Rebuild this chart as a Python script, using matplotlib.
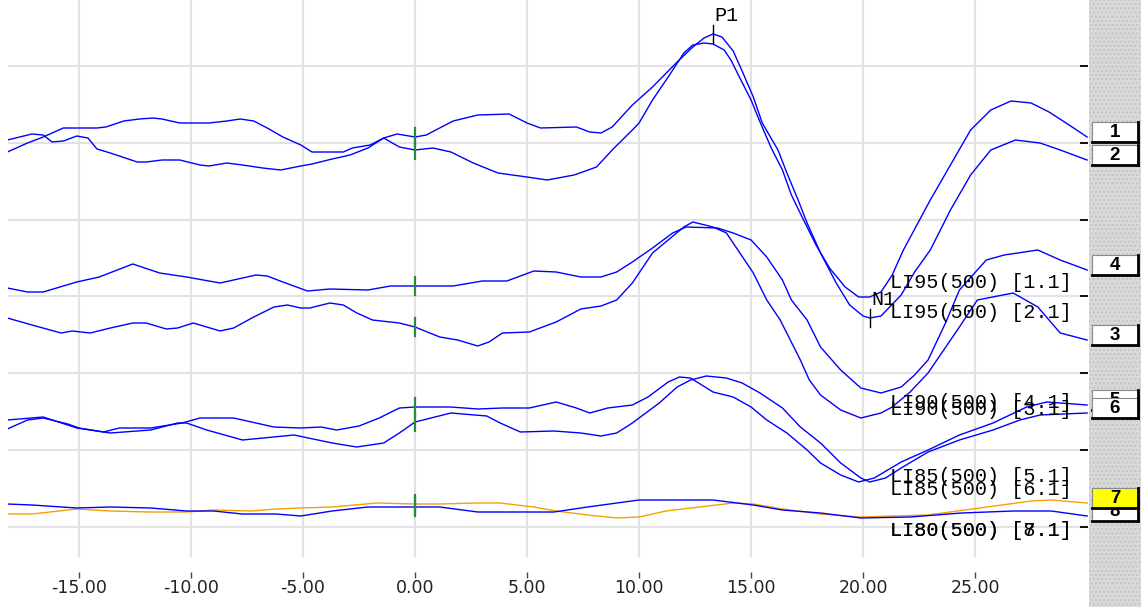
import numpy as np
import matplotlib
matplotlib.use('Agg')
import matplotlib.pyplot as plt
from matplotlib.patches import Rectangle
from matplotlib.lines import Line2D
from matplotlib.transforms import blended_transform_factory

# ---------------- data (time in ms, amplitude in uV) ----------------
ch1_t = [-18.2, -17.1, -16.6, -16.2, -15.7, -15.1, -14.6, -14.2, -13.6, -12.4, -12.0, -11.3, -10.5, -9.6, -9.2,
         -8.4, -7.7, -6.8, -6.0, -5.1, -4.6, -3.7, -2.9, -2.1, -1.4, -0.7, 0.0, 0.8, 1.6, 2.6, 3.7, 5.0, 5.9,
         7.1, 8.1, 8.8, 9.7, 10.0, 10.6, 11.3, 12.0, 12.4, 12.9, 13.3, 13.8, 14.1, 14.5, 15.0, 15.4, 15.9, 16.4, 16.8,
         17.3, 17.9, 18.5, 19.2, 19.8, 20.3, 20.8, 21.3, 21.8, 23.0, 23.9, 24.8, 25.7, 26.6, 27.5, 28.3, 29.2, 30.0]
ch1_v = [0.0, 0.6, 0.5, -0.2, -0.1, 0.4, 0.2, -0.9, -1.3, -2.2, -2.2, -2.0, -2.0, -2.5, -2.6,
         -2.3, -2.5, -2.8, -3.0, -2.6, -2.4, -1.9, -1.5, -0.8, 0.2, -0.7, -1.0, -0.8, -1.2, -2.3, -3.3, -3.7, -4.0,
         -3.5, -2.7, -1.0, 1.0, 1.7, 4.0, 6.3, 8.7, 9.5, 9.7, 9.6, 9.0, 8.0, 6.2, 4.0, 1.8, -0.8, -3.0, -5.5,
         -7.8, -10.5, -12.8, -14.7, -15.7, -15.7, -15.2, -13.5, -11.0, -6.0, -2.5, 1.0, 3.0, 3.9, 3.7, 2.8, 1.5, 0.3]

ch2_t = [-18.2, -17.3, -16.6, -15.7, -15.1, -14.2, -13.8, -13.0, -12.3, -11.7, -11.3, -10.5, -9.9, -9.2, -8.4,
         -7.8, -7.2, -6.6, -5.9, -5.1, -4.6, -3.2, -2.8, -2.0, -1.4, -0.8, 0.0, 0.5, 1.7, 2.8, 4.2, 5.0, 5.6,
         7.2, 7.8, 8.3, 8.8, 9.7, 10.6, 11.7, 12.4, 12.9, 13.3, 13.7, 14.2, 14.6, 15.1, 15.5, 16.2, 16.6, 17.1, 17.5,
         18.1, 18.8, 19.4, 20.0, 20.3, 20.8, 21.7, 22.3, 23.0, 23.9, 24.8, 25.7, 26.8, 27.9, 28.8, 30.0]
ch2_v = [-1.2, -0.3, 0.3, 1.2, 1.2, 1.2, 1.3, 1.9, 2.1, 2.2, 2.1, 1.7, 1.7, 1.7, 1.9,
         2.1, 1.9, 1.2, 0.3, -0.5, -1.2, -1.2, -0.8, -0.5, 0.2, 0.6, 0.3, 0.5, 1.9, 2.5, 2.6, 1.7, 1.2,
         1.3, 0.8, 0.7, 1.3, 3.5, 5.3, 7.8, 9.3, 10.2, 10.6, 10.3, 8.9, 6.9, 4.3, 1.7, -1.0, -3.3, -6.0, -8.3,
         -11.3, -14.3, -16.5, -17.6, -17.8, -17.6, -15.5, -13.2, -11.0, -7.0, -3.5, -1.0, 0.0, -0.3, -1.0, -2.0]

ch3_t = [-18.2, -17.1, -15.8, -15.3, -14.5, -13.6, -12.6, -12.0, -11.1, -10.6, -9.9, -9.3, -8.7, -8.1, -7.2,
         -6.3, -5.7, -5.1, -4.7, -3.8, -3.2, -2.6, -1.9, -0.7, 0.0, 1.1, 1.9, 2.8, 3.3, 3.9, 5.1, 6.3, 7.4,
         8.3, 9.0, 9.7, 10.6, 11.3, 12.0, 12.4, 13.3, 13.9, 14.5, 15.1, 15.7, 16.3, 17.2, 17.6, 18.1, 19.0, 19.9,
         20.8, 21.3, 22.1, 22.9, 24.3, 25.1, 26.7, 27.8, 28.8, 30.0]
ch3_v = [-1.8, -2.5, -3.3, -3.1, -3.3, -2.8, -2.3, -2.3, -2.9, -2.8, -2.3, -2.7, -3.1, -2.8, -1.7,
         -0.7, -0.5, -0.8, -0.8, -0.3, -0.5, -1.3, -2.0, -2.3, -2.7, -3.7, -4.0, -4.6, -4.2, -3.3, -3.2, -2.2, -0.9,
         -0.6, 0.0, 1.7, 4.7, 6.0, 7.3, 7.8, 7.3, 6.7, 4.7, 2.7, 0.0, -2.0, -6.0, -8.0, -9.5, -11.0, -11.8,
         -11.3, -10.7, -9.2, -7.3, -2.7, 0.0, 0.7, -0.7, -3.3, -4.0]

ch4_t = [-18.2, -17.3, -16.6, -15.1, -14.1, -12.6, -11.4, -10.2, -8.7, -7.1, -6.6, -5.9, -4.8, -3.8, -2.1,
         -1.1, 0.0, 1.7, 3.0, 4.1, 5.3, 6.3, 7.4, 8.3, 9.0, 9.7, 10.6, 11.5, 12.1, 13.5, 14.2, 15.0, 15.7,
         16.4, 16.8, 17.5, 18.1, 19.0, 19.9, 20.8, 21.7, 22.3, 22.9, 23.7, 24.3, 25.5, 26.3, 27.8, 28.8, 30.0]
ch4_v = [1.2, 0.8, 0.8, 1.8, 2.3, 3.6, 2.7, 2.3, 1.7, 2.5, 2.4, 1.8, 0.9, 1.1, 1.0,
         1.4, 1.4, 1.4, 1.9, 1.9, 2.9, 2.8, 2.3, 2.3, 2.8, 3.8, 5.2, 6.7, 7.3, 7.2, 6.7, 6.0, 4.3,
         2.0, 0.0, -2.0, -4.7, -7.0, -8.8, -9.3, -8.7, -7.5, -6.0, -2.2, 1.0, 4.0, 4.5, 5.0, 4.0, 3.0]

ch5_t = [-18.2, -17.3, -16.6, -15.5, -15.0, -13.9, -13.2, -11.8, -10.4, -9.6, -8.1, -6.3, -5.1, -4.2, -3.5,
         -2.5, -1.6, -0.7, 0.0, 1.6, 2.8, 3.9, 5.1, 6.3, 7.2, 7.8, 8.6, 9.7, 10.4, 11.3, 11.8, 12.3, 13.3,
         14.2, 15.0, 15.7, 16.6, 17.5, 18.1, 19.0, 19.8, 20.5, 21.7, 22.9, 24.3, 25.8, 27.3, 28.2, 30.0]
ch5_v = [-0.9, 0.0, 0.2, -0.4, -0.8, -1.2, -0.8, -0.8, -0.3, 0.2, 0.2, -0.7, -0.8, -0.7, -1.0,
         -0.6, 0.2, 1.2, 1.3, 1.3, 1.1, 1.2, 1.2, 1.8, 1.2, 0.7, 1.2, 1.5, 2.3, 3.8, 4.3, 4.2, 2.8,
         2.3, 1.3, 0.0, -1.3, -3.0, -4.3, -5.5, -6.2, -5.8, -4.2, -3.0, -1.5, -0.3, 1.3, 1.8, 1.5]

ch6_t = [-18.2, -16.6, -15.1, -13.6, -11.8, -10.6, -10.2, -9.3, -7.7, -5.4, -3.7, -2.6, -1.4, -0.7, 0.0,
         1.6, 3.2, 3.8, 4.7, 6.2, 7.4, 8.3, 9.0, 9.7, 10.9, 11.7, 12.3, 13.0, 13.9, 14.6, 15.4, 16.4, 17.2,
         18.1, 19.0, 19.9, 20.3, 21.0, 21.7, 22.9, 24.3, 25.8, 27.0, 27.9, 30.0]
ch6_v = [0.0, 0.3, -0.8, -1.3, -1.0, -0.3, -0.3, -1.0, -2.0, -1.5, -2.3, -2.7, -2.3, -1.3, -0.2,
         0.7, 0.4, -0.3, -1.2, -1.1, -1.3, -1.6, -1.3, -0.3, 1.7, 3.3, 4.0, 4.4, 4.2, 3.7, 2.7, 1.2, -0.7,
         -2.3, -4.3, -5.8, -6.2, -5.8, -4.8, -3.2, -2.0, -1.0, 0.0, 0.5, 0.7]

ch7_t = [-18.2, -17.1, -15.1, -13.6, -11.8, -10.2, -9.0, -7.3, -6.2, -5.1, -3.7, -1.7, 0.0, 1.1, 2.8,
         3.8, 5.3, 6.3, 7.7, 9.0, 10.0, 11.2, 12.7, 14.2, 15.1, 16.4, 18.1, 19.9, 22.9, 25.2, 27.5, 28.4, 30.0]
ch7_v = [-0.4, -0.4, 0.1, -0.1, -0.2, -0.2, 0.0, -0.1, 0.1, 0.2, 0.3, 0.7, 0.6, 0.6, 0.7,
         0.7, 0.3, -0.1, -0.5, -0.8, -0.7, -0.1, 0.3, 0.7, 0.6, 0.1, -0.4, -0.7, -0.5, 0.2, 0.9, 1.0, 0.7]

ch8_t = [-18.2, -17.1, -15.1, -13.6, -11.8, -10.2, -9.0, -7.7, -6.2, -5.1, -3.7, -2.1, 0.0, 1.1, 2.8,
         6.2, 7.7, 10.0, 13.3, 15.1, 16.4, 18.1, 19.9, 22.1, 24.4, 26.7, 28.4, 30.0]
ch8_v = [0.6, 0.5, 0.2, 0.3, 0.2, -0.1, -0.1, -0.4, -0.4, -0.6, -0.1, 0.3, 0.3, 0.3, -0.2,
         -0.2, 0.3, 1.0, 1.0, 0.5, 0.0, -0.3, -0.8, -0.7, -0.3, -0.1, -0.1, -0.6]

channel_ids = ['1', '2', '3', '4', '5', '6', '7', '8']
trace_labels = ['LI95(500) [1.1]', 'LI95(500) [2.1]', 'LI90(500) [3.1]', 'LI90(500) [4.1]',
                'LI85(500) [5.1]', 'LI85(500) [6.1]', 'LI80(500) [7.1]', 'LI80(500) [8.1]']
x_ticks = [-15, -10, -5, 0, 5, 10, 15, 20, 25]
x_tick_labels = ['-15.00', '-10.00', '-5.00', '0.00', '5.00', '10.00', '15.00', '20.00', '25.00']
peak_names = ['P1', 'N1']
peak_times = [13.3, 20.3]   # marked on channel 2

# ---------------- layout / style ----------------
times = [ch1_t, ch2_t, ch3_t, ch4_t, ch5_t, ch6_t, ch7_t, ch8_t]
values = [ch1_v, ch2_v, ch3_v, ch4_v, ch5_v, ch6_v, ch7_v, ch8_v]
offsets = [0, 0, -16, -16, -28, -28, -37, -37]
colors = ['#0000ff'] * 6 + ['#f5a000', '#0000ff']
label_y = [-14.3, -17.3, -27.0, -26.3, -33.7, -35.0, -39.0, -39.0]
box_face = ['white'] * 6 + ['#ffff00', 'white']
box_z = [10, 10, 10, 10, 10, 11, 12, 11]

W, H = 1148, 607
fig = plt.figure(figsize=(W / 100, H / 100), dpi=100)
fig.patch.set_facecolor('white')

# right side panel (behind everything)
panel = Rectangle((1089 / W, 0), 52 / W, 1, transform=fig.transFigure, facecolor='#d9d9d9',
                  edgecolor='#c4c4c4', hatch='....', linewidth=0, zorder=-5)
fig.patches.append(panel)

ax = fig.add_axes([8 / W, 50 / H, 1080 / W, 557 / H])
ax.set_zorder(1)
ax.patch.set_alpha(0)
ax.set_xlim(-18.17, 30.04)
ax.set_ylim(-41.7, 14.0)

for s in ax.spines.values():
    s.set_visible(False)
ax.spines['bottom'].set_position(('outward', 10.8))

ax.set_xticks(x_ticks)
ax.set_xticklabels(x_tick_labels, fontsize=12.5, color='#222222', family='DejaVu Sans')
ax.tick_params(axis='x', direction='out', length=4.3, width=1.0, color='#444444', pad=0.5)

grid_y = [-0.3 + 7.67 * k for k in range(-5, 2)]
ax.set_yticks(grid_y)
ax.yaxis.tick_right()
ax.tick_params(axis='y', direction='in', length=6, width=1.3, color='black', labelright=False)
ax.grid(True, color='#e2e2e2', linewidth=1.5, zorder=0)
ax.set_axisbelow(True)

# traces
for i in range(8):
    t = np.array(times[i])
    v = np.array(values[i]) + offsets[i]
    ax.plot(t, v, color=colors[i], lw=1.0, zorder=3 if i != 6 else 2.5, solid_joinstyle='round')
    # stimulus marker at 0 ms
    v0 = np.interp(0.0, t, v)
    ax.plot([0, 0], [v0 - 0.9, v0 + 0.9], color='#2a8a3a', lw=1.6, zorder=4)

# peak markers on channel 2
for name, pt in zip(peak_names, peak_times):
    pv = np.interp(pt, ch2_t, ch2_v) + offsets[1]
    ax.plot([pt, pt], [pv - 0.9, pv + 0.9], color='black', lw=1.0, zorder=5)
    ax.text(pt + 0.05, pv + 0.9, name, fontsize=14.5, family='Liberation Mono',
            ha='left', va='bottom', color='black', zorder=6)

# trace labels
for i in range(8):
    ax.text(21.2, label_y[i], trace_labels[i], fontsize=14.5, family='Liberation Mono',
            ha='left', va='center', color='black', zorder=6)

# channel boxes in the right panel
bt = blended_transform_factory(fig.transFigure, ax.transData)
x0, x1 = 1092 / W, 1138 / W
for i in range(8):
    end = values[i][-1] + offsets[i]
    lo, hi = end - 0.5, end + 1.5
    z = box_z[i]
    ax.add_patch(Rectangle((x0, lo), x1 - x0, hi - lo, transform=bt, facecolor=box_face[i],
                           edgecolor='#8a8a8a', lw=0.8, clip_on=False, zorder=z))
    ax.add_line(Line2D([x1, x1], [lo, hi], transform=bt, color='black', lw=2.0, clip_on=False, zorder=z))
    ax.add_line(Line2D([x0, x1], [lo, lo], transform=bt, color='black', lw=2.0, clip_on=False, zorder=z))
    ax.text((x0 + x1) / 2, (lo + hi) / 2 - 0.05, channel_ids[i], transform=bt, fontsize=13.5,
            fontweight='bold', family='Liberation Sans', ha='center', va='center', color='black',
            clip_on=False, zorder=z)

fig.savefig('out.png', dpi=100, facecolor='white')
